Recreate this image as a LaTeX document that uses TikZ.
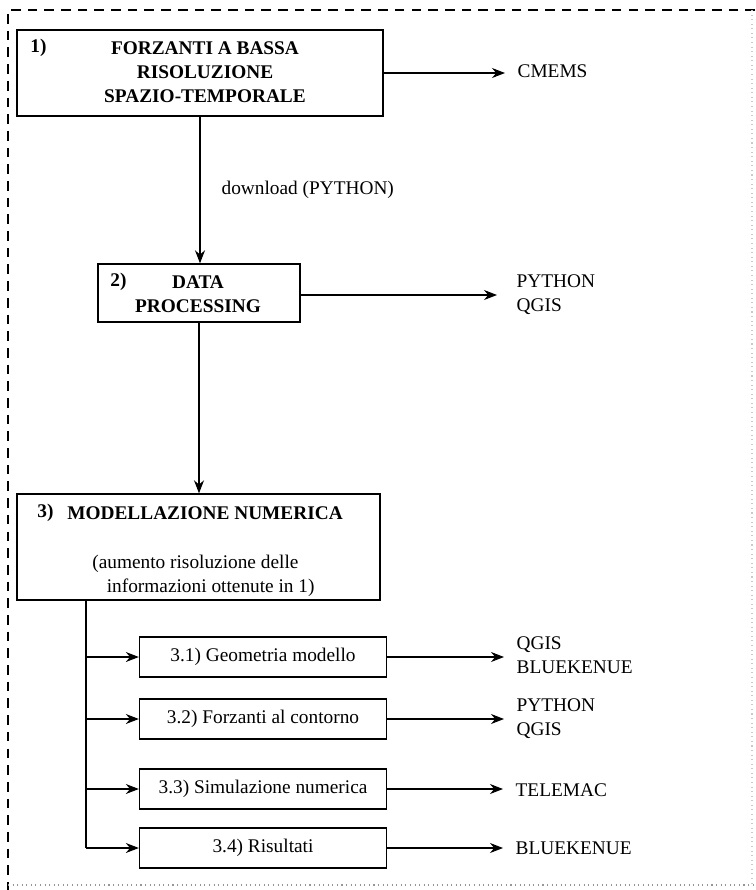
\documentclass[tikz,border=0pt]{standalone}
\usepackage{fontspec}
\setmainfont{Liberation Serif}
\usetikzlibrary{arrows.meta}

\tikzset{
  stage/.style={draw, line width=0.8pt, inner sep=0pt},
  substage/.style={draw, line width=0.8pt, minimum width=4.94cm, minimum height=0.8cm, inner sep=0pt},
  txt/.style={inner sep=0pt, font=\fontsize{11}{13.7}\selectfont},
  tool/.style={inner xsep=7pt, inner ysep=0pt, anchor=west, align=left, font=\fontsize{11}{13.7}\selectfont},
  flow/.style={line width=0.6pt, -{Stealth[length=2.6mm,width=2mm]}},
}

\begin{document}
\begin{tikzpicture}[x=0.02cm, y=-0.02cm]

            \useasboundingbox (0,0) rectangle (755,890);

            % Define colors
            \definecolor{framegray}{RGB}{150,150,150}

            % Dashed frame
            \draw[line width=0.8pt, dash pattern=on 5.5pt off 4pt] (755,10) -- (8,10) -- (8,890);
            \draw[framegray, line width=0.6pt, dotted] (8,885) -- (755,885);
            \draw[framegray!50, line width=0.6pt, dotted] (752,10) -- (752,885);

            % Main stages
            \node[stage, minimum width=7.32cm, minimum height=1.72cm] (box1) at (200,73) {};
            \node[txt, anchor=west] (num1) at (30,48) {\textbf{1)}};
            \node[txt, align=center] (title1) at (205,72) {\textbf{FORZANTI A BASSA}\\\textbf{RISOLUZIONE}\\\textbf{SPAZIO-TEMPORALE}};

            \node[stage, minimum width=4.04cm, minimum height=1.16cm] (box2) at (199,293) {};
            \node[txt, anchor=west] (num2) at (110,282) {\textbf{2)}};
            \node[txt, align=center] (title2) at (198,294) {\textbf{DATA}\\\textbf{PROCESSING}};

            \node[stage, minimum width=7.26cm, minimum height=2.12cm] (box3) at (198.5,547) {};
            \node[txt, anchor=west] (num3) at (37,513) {\textbf{3)}};
            \node[txt, anchor=west] (title3) at (67,513) {\textbf{MODELLAZIONE NUMERICA}};
            \node[txt, anchor=west, align=left] (note3) at (92,576) {(aumento risoluzione delle\\\hspace*{0.75em}informazioni ottenute in 1)};

            % Sub stages
            \node[substage] (sub1) at (263,657) {\fontsize{11}{13.7}\selectfont 3.1) Geometria modello};
            \node[substage] (sub2) at (263,719) {\fontsize{11}{13.7}\selectfont 3.2) Forzanti al contorno};
            \node[substage] (sub3) at (263,789) {\fontsize{11}{13.7}\selectfont 3.3) Simulazione numerica};
            \node[substage] (sub4) at (263,848) {\fontsize{11}{13.7}\selectfont 3.4) Risultati};

            % Tools
            \node[tool] (cmems) at (505,71) {CMEMS};
            \node[tool] (tool2) at (497,295) {\hspace*{4pt}PYTHON\\\hspace*{4pt}QGIS};
            \node[tool] (tool31) at (504,655) {QGIS\\BLUEKENUE};
            \node[tool] (tool32) at (504,719) {PYTHON\\QGIS};
            \node[tool] (tool33) at (503,790) {TELEMAC};
            \node[tool] (tool34) at (503,848) {BLUEKENUE};

            % Vertical flow
            \draw[flow] (box1.south) -- (box1.south |- box2.north) node[txt, midway, right=12pt] (dl) {download (PYTHON)};
            \draw[flow] (box2.south) -- (box2.south |- box3.north);

            % Arrows to tools
            \draw[flow] (box1.east) -- (box1.east -| cmems.west);
            \draw[flow] (box2.east |- tool2.west) -- (tool2.west);
            \draw[flow] (sub1.east) -- (sub1.east -| tool31.west);
            \draw[flow] (sub2.east) -- (sub2.east -| tool32.west);
            \draw[flow] (sub3.east) -- (sub3.east -| tool33.west);
            \draw[flow] (sub4.east) -- (sub4.east -| tool34.west);

            % Branches to sub stages
            \coordinate (trunk) at (86,600);
            \draw[line width=0.6pt] (trunk) -- (trunk |- sub4.west);
            \draw[flow] (trunk |- sub1.west) -- (sub1.west);
            \draw[flow] (trunk |- sub2.west) -- (sub2.west);
            \draw[flow] (trunk |- sub3.west) -- (sub3.west);
            \draw[flow] (trunk |- sub4.west) -- (sub4.west);

\end{tikzpicture}
\end{document}
